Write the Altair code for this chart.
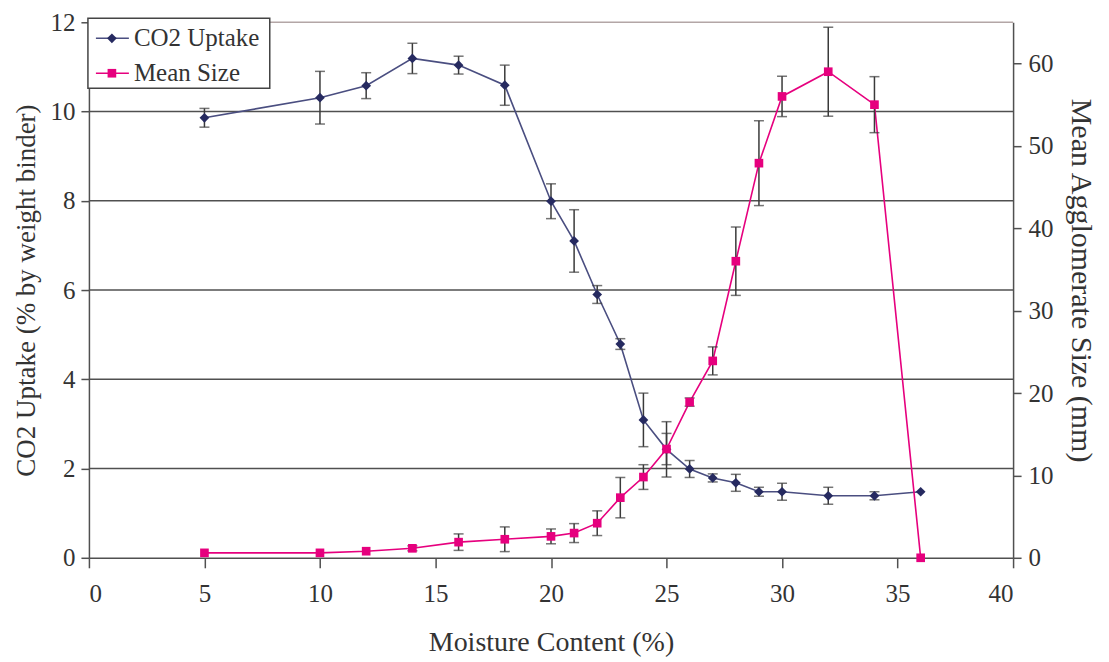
import altair as alt
import pandas as pd

moisture = [5, 10, 12, 14, 16, 18, 20, 21, 22, 23, 24, 25, 26, 27, 28, 29, 30, 32, 34, 36]
co2_uptake = [9.86, 10.31, 10.58, 11.19, 11.04, 10.59, 7.99, 7.10, 5.90, 4.79, 3.09, 2.43,
              1.99, 1.79, 1.68, 1.48, 1.48, 1.39, 1.39, 1.48]
co2_err = [0.21, 0.59, 0.29, 0.34, 0.20, 0.45, 0.39, 0.70, 0.20, 0.12, 0.60, 0.62,
           0.19, 0.09, 0.19, 0.10, 0.19, 0.19, 0.09, 0.0]
mean_size = [0.6, 0.6, 0.8, 1.15, 1.9, 2.25, 2.6, 3.0, 4.2, 7.3, 9.8, 13.2,
             18.9, 23.9, 36.0, 47.9, 56.0, 59.0, 55.0, 0.0]
size_err = [0.0, 0.0, 0.0, 0.3, 1.0, 1.5, 0.9, 1.15, 1.5, 2.45, 1.5, 1.9,
            0.5, 1.7, 4.15, 5.15, 2.45, 5.4, 3.4, 0.0]
grid_values = [2, 4, 6, 8, 10]
top_value = [12]
legend_labels = ["CO2 Uptake", "Mean Size"]

FONT = "Liberation Serif"
NAVY_LINE = "#4A4E80"
NAVY = "#262A60"
MAGENTA = "#E6007E"
ERR = "#3A3A3A"

df = pd.DataFrame({
    "moisture": moisture,
    "co2": co2_uptake,
    "co2_err": co2_err,
    "size": mean_size,
    "size_err": size_err,
})
df["co2_lo"] = df["co2"] - df["co2_err"]
df["co2_hi"] = df["co2"] + df["co2_err"]
df["size_lo"] = df["size"] - df["size_err"]
df["size_hi"] = df["size"] + df["size_err"]

x_axis = alt.Axis(values=list(range(0, 41, 5)), title="Moisture Content (%)",
                  grid=False, tickSize=10, labelPadding=14, titlePadding=22,
                  titleFontSize=28)
X = alt.X("moisture:Q", scale=alt.Scale(domain=[0, 40], nice=False), axis=x_axis)

yL_scale = alt.Scale(domain=[0, 12], nice=False)
yL_axis = alt.Axis(values=list(range(0, 13, 2)), title="CO2 Uptake (% by weight binder)",
                   grid=False, tickSize=8, labelPadding=6, titlePadding=9, orient="left",
                   titleFontSize=27)
yR_scale = alt.Scale(domain=[0, 65], nice=False)
yR_axis = alt.Axis(values=list(range(0, 61, 10)), title="Mean Agglomerate Size (mm)",
                   grid=False, tickSize=8, labelPadding=7, titlePadding=12, orient="right",
                   titleFontSize=30, titleY=258)


def YL(field):
    return alt.Y(f"{field}:Q", scale=yL_scale, axis=yL_axis)


def YR(field):
    return alt.Y(f"{field}:Q", scale=yR_scale, axis=yR_axis)


base = alt.Chart(df)
co2_eb = base.transform_filter("datum.co2_err > 0")
size_eb = base.transform_filter("datum.size_err > 0")

grid = alt.Chart(pd.DataFrame({"g": grid_values})).mark_rule(
    color="#505050", strokeWidth=1.5).encode(y=alt.Y("g:Q", scale=yL_scale, axis=yL_axis))
top = alt.Chart(pd.DataFrame({"g": top_value})).mark_rule(
    color="#B3A6A6", strokeWidth=1.5).encode(y=alt.Y("g:Q", scale=yL_scale, axis=yL_axis))

left = alt.layer(
    grid,
    top,
    base.mark_line(color=NAVY_LINE, strokeWidth=1.6).encode(x=X, y=YL("co2")),
    co2_eb.mark_rule(color=ERR, strokeWidth=1.5).encode(x=X, y=YL("co2_lo"), y2="co2_hi"),
    co2_eb.mark_tick(orient="horizontal", size=10, thickness=1.5, color=ERR).encode(x=X, y=YL("co2_lo")),
    co2_eb.mark_tick(orient="horizontal", size=10, thickness=1.5, color=ERR).encode(x=X, y=YL("co2_hi")),
    base.mark_point(shape="diamond", filled=True, size=95, color=NAVY, opacity=1).encode(x=X, y=YL("co2")),
)

right = alt.layer(
    base.mark_line(color=MAGENTA, strokeWidth=1.6).encode(x=X, y=YR("size")),
    size_eb.mark_rule(color=ERR, strokeWidth=1.5).encode(x=X, y=YR("size_lo"), y2="size_hi"),
    size_eb.mark_tick(orient="horizontal", size=10, thickness=1.5, color=ERR).encode(x=X, y=YR("size_lo")),
    size_eb.mark_tick(orient="horizontal", size=10, thickness=1.5, color=ERR).encode(x=X, y=YR("size_hi")),
    base.mark_point(shape="square", filled=True, size=75, color=MAGENTA, opacity=1).encode(x=X, y=YR("size")),
)

one = pd.DataFrame({"a": [0]})
legend = alt.layer(
    alt.Chart(one).mark_rect(fill="white", stroke="#444444", strokeWidth=1.5).encode(
        x=alt.value(-1), x2=alt.value(181), y=alt.value(-4), y2=alt.value(66)),
    alt.Chart(one).mark_rule(color=NAVY_LINE, strokeWidth=1.6).encode(
        x=alt.value(7), x2=alt.value(40), y=alt.value(16)),
    alt.Chart(one).mark_point(shape="diamond", filled=True, size=95, color=NAVY, opacity=1).encode(
        x=alt.value(23), y=alt.value(16)),
    alt.Chart(one).mark_text(align="left", baseline="middle", font=FONT, fontSize=25, color="#333333").encode(
        x=alt.value(45), y=alt.value(16), text=alt.value(legend_labels[0])),
    alt.Chart(one).mark_rule(color=MAGENTA, strokeWidth=1.6).encode(
        x=alt.value(7), x2=alt.value(40), y=alt.value(51)),
    alt.Chart(one).mark_point(shape="square", filled=True, size=75, color=MAGENTA, opacity=1).encode(
        x=alt.value(23), y=alt.value(51)),
    alt.Chart(one).mark_text(align="left", baseline="middle", font=FONT, fontSize=25, color="#333333").encode(
        x=alt.value(45), y=alt.value(51), text=alt.value(legend_labels[1])),
)

chart = alt.layer(left, right, legend).resolve_scale(y="independent").properties(
    width=925, height=536,
    padding={"left": 81, "top": 14, "right": 88, "bottom": 100},
    autosize=alt.AutoSizeParams(type="none"),
).configure_view(stroke=None).configure_axis(
    labelFont=FONT, titleFont=FONT, labelFontSize=25,
    titleFontWeight="normal", labelColor="#333333", titleColor="#333333",
    domainColor="#505050", tickColor="#505050", domainWidth=1.5, tickWidth=1.5,
)

chart.save("out.html", embed_options={"renderer": "svg", "actions": False})
